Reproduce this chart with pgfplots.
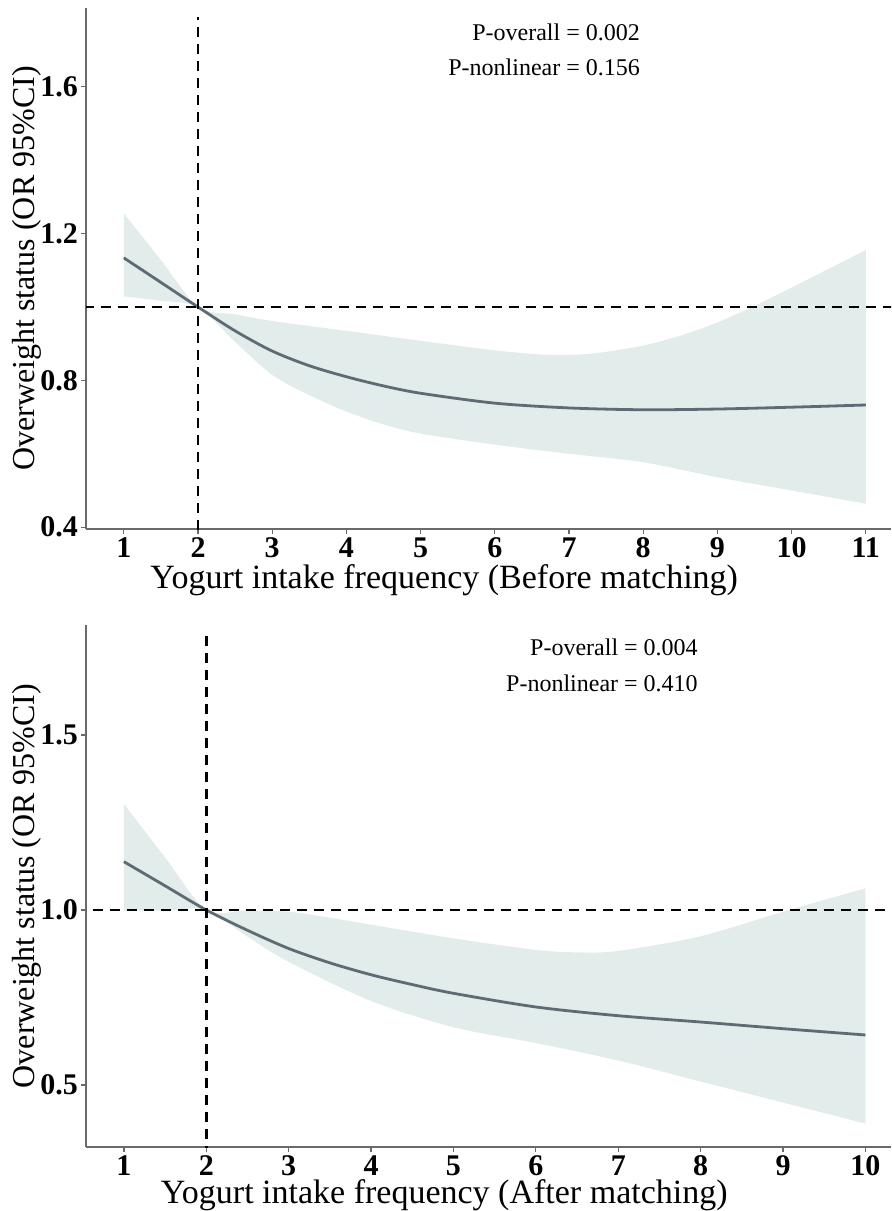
\documentclass[border=0pt]{standalone}
\usepackage{fontspec}
\setmainfont{Liberation Serif}
\usepackage{pgfplots}
\pgfplotsset{compat=1.18}
\usepgfplotslibrary{fillbetween}

\definecolor{band}{HTML}{E2ECEA}
\definecolor{curve}{HTML}{5E6B75}
\definecolor{axgray}{HTML}{6A6A6A}

\pgfplotsset{
  rcs/.style={
    scale only axis, width=402.5pt,
    axis lines=left,
    axis line style={-, draw=axgray, line width=0.8pt},
    tick style={draw=axgray, line width=0.6pt},
    tick align=outside, major tick length=2.5pt,
    ticklabel style={font=\fontsize{15}{15}\bfseries\selectfont},
    xticklabel style={text height=10pt, text depth=0pt, yshift=2pt},
    yticklabel style={xshift=2pt},
    /pgf/number format/assume math mode=true,
    xlabel style={font=\fontsize{17}{19}\selectfont,
      at={(ticklabel cs:0.445)}, anchor=north, yshift=3pt},
    ylabel={Overweight status (OR 95\%CI)},
    ylabel style={font=\fontsize{16}{18}\selectfont,
      at={(rel axis cs:0,0.5)}, anchor=center, yshift=29.5pt},
    xtick distance=1,
  },
}
\tikzset{
  refl/.style={black, line width=1.3pt, dash pattern=on 5pt off 3.5pt},
  ann/.style={anchor=east, font=\fontsize{12}{14}\selectfont},
}

\begin{document}
\begin{tikzpicture}
% before matching
\begin{axis}[rcs, height=260.5pt, at={(43pt,-4pt)}, anchor=north west,
  xmin=0.49, xmax=11.34, ymin=0.395, ymax=1.815,
  ytick={0.4,0.8,1.2,1.6},
  yticklabel style={/pgf/number format/.cd, fixed, fixed zerofill, precision=1},
  xlabel={Yogurt intake frequency (Before matching)}]
\addplot[name path=up1, draw=none, smooth] coordinates {
  (1,1.255) (1.5,1.128) (2,1.0) (2.5,0.98) (3,0.962) (4,0.935) (5,0.908)
  (6,0.882) (6.7,0.870) (7.3,0.873) (8,0.895) (8.5,0.922) (9,0.958)
  (9.5,1.003) (10,1.053) (10.5,1.104) (11,1.155)};
\addplot[name path=lo1, draw=none, smooth] coordinates {
  (1,1.029) (1.5,1.017) (2,1.0) (2.5,0.905) (3,0.815) (3.5,0.76) (4,0.715)
  (4.5,0.68) (5,0.655) (6,0.625) (7,0.60) (8,0.577) (9,0.536) (10,0.50)
  (11,0.464)};
\addplot[band] fill between[of=up1 and lo1];
\addplot[curve, line width=1.4pt, smooth] coordinates {
  (1,1.134) (1.5,1.067) (2,1.0) (2.5,0.935) (3,0.88) (3.5,0.84) (4,0.81)
  (4.5,0.785) (5,0.765) (6,0.738) (7,0.725) (8,0.72) (9,0.722) (10,0.727)
  (11,0.733)};
\draw[refl] (axis cs:0,1) -- (axis cs:12,1);
\draw[refl] (axis cs:2,0.3) -- (axis cs:2,1.79);
\node[ann] at (axis cs:8.05,1.75) {P-overall = 0.002};
\node[ann] at (axis cs:8.05,1.652) {P-nonlinear = 0.156};
\end{axis}

% after matching
\begin{axis}[rcs, height=261pt, at={(43pt,-312.5pt)}, anchor=north west,
  xmin=0.54, xmax=10.31, ymin=0.323, ymax=1.814,
  ytick={0.5,1.0,1.5},
  yticklabel style={/pgf/number format/.cd, fixed, fixed zerofill, precision=1},
  xlabel style={yshift=1.5pt},
  xlabel={Yogurt intake frequency (After matching)}]
\addplot[name path=up2, draw=none, smooth] coordinates {
  (1,1.303) (1.5,1.15) (2,1.0) (2.5,0.999) (3,0.995) (3.5,0.978) (4,0.958)
  (5,0.919) (6,0.886) (6.5,0.879) (7,0.883) (8,0.925) (9,0.995) (10,1.062)};
\addplot[name path=lo2, draw=none, smooth] coordinates {
  (1,0.998) (1.5,0.998) (2,1.0) (2.5,0.924) (3,0.852) (4,0.74) (5,0.665)
  (6,0.62) (7,0.57) (8,0.51) (9,0.45) (10,0.39)};
\addplot[band] fill between[of=up2 and lo2];
\addplot[curve, line width=1.4pt, smooth] coordinates {
  (1,1.138) (1.5,1.069) (2,1.0) (2.5,0.942) (3,0.89) (3.5,0.849) (4,0.815)
  (4.5,0.787) (5,0.762) (6,0.723) (7,0.698) (8,0.680) (9,0.661) (10,0.643)};
\draw[refl] (axis cs:0,1) -- (axis cs:12,1);
\draw[refl] (axis cs:2,0.2) -- (axis cs:2,1.79);
\node[ann] at (axis cs:8.05,1.749) {P-overall = 0.004};
\node[ann] at (axis cs:8.05,1.646) {P-nonlinear = 0.410};
\end{axis}
\pgfresetboundingbox
\path[use as bounding box] (0,0) rectangle (445.5pt,-605.5pt);
\end{tikzpicture}
\end{document}
